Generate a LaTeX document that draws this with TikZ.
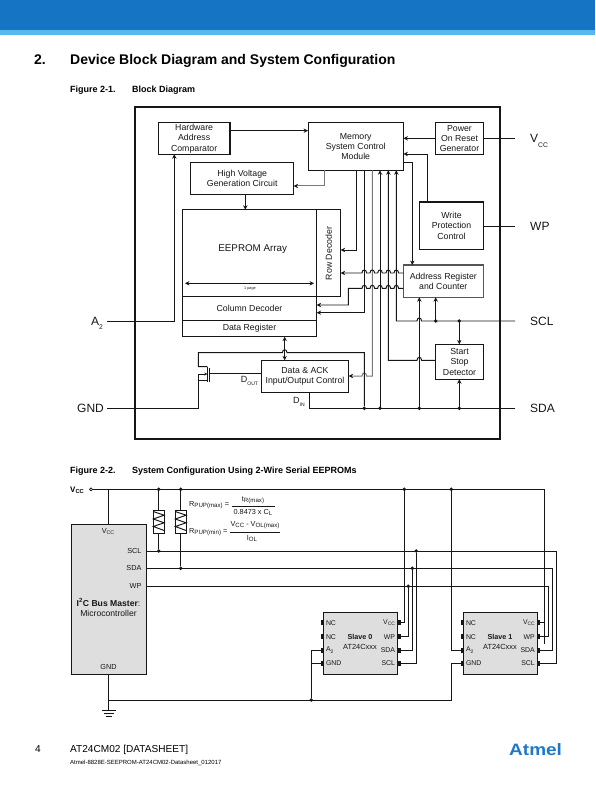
\documentclass[tikz,border=0pt]{standalone}
\usepackage{fontspec}
\usepackage{graphicx}
\setmainfont{Liberation Sans}
\usetikzlibrary{arrows.meta}
\definecolor{barblue}{HTML}{1574C4}
\definecolor{barlight}{HTML}{55B9EE}
\definecolor{logoblue}{HTML}{1E78C8}
\definecolor{chipgray}{HTML}{DEDEDE}
\definecolor{ink}{HTML}{161616}
\definecolor{softline}{HTML}{7A7A7A}
% subscripts: ordinary, small (large labels), wide (formulas)
\newcommand\lsub[1]{\raisebox{-0.22em}{\scalebox{0.72}{#1}}}
\newcommand\bsub[1]{\raisebox{-0.35em}{\scalebox{0.56}{#1}}}
\newcommand\fsub[1]{\raisebox{-0.18em}{\scalebox{0.84}{#1}}}
% wire jumps (left-going)
\newcommand\hjl[2]{-- ({#1+2.3},#2) .. controls ({#1+2.3},{#2-4}) and ({#1-2.3},{#2-4}) .. ({#1-2.3},#2)}
% box given by its corners
\newcommand\bx[7][]{\node[blockbox,#1,minimum width={(#5-#3)*1pt},minimum height={(#6-#4)*1pt}] (#2) at ({(#3+#5)/2},{(#4+#6)/2}) {#7};}
\tikzset{
  wire/.style={draw=ink,line width=0.95pt},
  softwire/.style={draw=softline,line width=1pt},
  arr/.style={wire,-{Stealth[length=4.4pt,width=4.4pt]}},
  softarr/.style={softwire,-{Stealth[length=4.4pt,width=4.4pt,color=ink]}},
  darr/.style={wire,{Stealth[length=4.4pt,width=4.4pt]}-{Stealth[length=4.4pt,width=4.4pt]}},
  blockbox/.style={draw=ink,line width=1pt,inner sep=0pt,outer sep=0pt,align=center,text=ink,font=\fontsize{8.75}{10.4}\selectfont},
  biglabel/.style={anchor=base west,inner sep=0pt,text=ink,font=\fontsize{12}{14}\selectfont},
  jdot/.style={circle,fill=ink,inner sep=0pt,minimum size=3.8pt},
  chiplabel/.style={inner sep=0pt,text=ink,font=\fontsize{6.9}{8}\selectfont},
  mlabel/.style={inner sep=0pt,text=ink,font=\fontsize{7.3}{9}\selectfont},
  formula/.style={inner sep=0pt,text=ink,font=\fontsize{7.3}{8}\selectfont},
  chipbox/.style={blockbox,fill=chipgray},
  pinmark/.style={fill=ink,inner sep=0pt,minimum width=2.8pt,minimum height=5pt},
  fig/.style={anchor=base west,inner sep=0pt,text=black,font=\fontsize{9}{10}\selectfont\bfseries},
}
\begin{document}
\begin{tikzpicture}[x=1pt,y=-1pt]
\useasboundingbox (0,0) rectangle (595,791);
% page header
\fill[barblue] (0,0) rectangle (595,30);
\fill[barlight] (0,30) rectangle (595,35);
\node[anchor=base west,inner sep=0pt,font=\fontsize{14}{16}\selectfont\bfseries] (secnum) at (34,65) {2.};
\node[anchor=base west,inner sep=0pt,font=\fontsize{14}{16}\selectfont\bfseries] (title) at (70,65) {Device Block Diagram and System Configuration};
\node[fig] (fig1a) at (70,93) {Figure 2-1.};
\node[fig] (fig1b) at (132,93) {Block Diagram};
\node[fig] (fig2a) at (70,473) {Figure 2-2.};
\node[fig] (fig2b) at (132,473) {System Configuration Using 2-Wire Serial EEPROMs};

% ---------- Figure 2-1 ----------
\node[draw=ink,line width=2.2pt,inner sep=0pt,outer sep=0pt,minimum width=365pt,minimum height=332pt] (frame) at (317.5,273) {};
\bx[line width=1.3pt]{hac}{158.3}{122.7}{230}{154.3}{Hardware\\Address\\Comparator}
\bx{scm}{308}{122.7}{403.5}{170.3}{Memory\\System Control\\Module}
\bx{por}{435.3}{122.7}{483.7}{154.3}{Power\\On Reset\\Generator}
\bx[line width=1.3pt]{wpc}{419.3}{202}{483.7}{249.3}{Write\\Protection\\Control}
\bx{hv}{190.7}{162.3}{293.7}{194.3}{High Voltage\\Generation Circuit}
\bx[line width=1.3pt]{arr1}{182.3}{209.7}{316.7}{296.7}{}
\bx{rd}{316.7}{209.7}{340.7}{296.7}{}
\bx[line width=1.3pt]{cd}{182.3}{296.7}{316.7}{320.7}{Column Decoder}
\bx[line width=1.3pt]{dr}{182.3}{320.7}{316.7}{336.7}{Data Register}
\bx{dack}{261.3}{360.3}{348.7}{392.3}{Data \& ACK\\Input/Output Control}
\bx[line width=1.4pt,draw=softline!70!black]{ar}{403.3}{265}{483.3}{297.3}{Address Register\\and Counter}
\bx{ssd}{435.3}{344.3}{483.7}{379.3}{Start\\Stop\\Detector}
\node[inner sep=0pt,text=ink,font=\fontsize{9.8}{11}\selectfont] (arrtext) at (252.7,249.3) {EEPROM Array};
\node[inner sep=0pt,text=ink,rotate=90,font=\fontsize{8.75}{10}\selectfont] (rdtext) at (328.7,253.5) {Row Decoder};
\node[inner sep=0pt,text=ink,font=\fontsize{3.8}{4}\selectfont] (pagetext) at (250,288.6) {1 page};
\coordinate (pl) at (185,283.3);
\coordinate (pr) at (314,283.3);
\draw[darr] (pl) -- (pr);

% outer connections
\node[biglabel] (lvcc) at (530,143) {V\bsub{CC}};
\node[biglabel] (lwp) at (530,230.7) {WP};
\node[biglabel] (lscl) at (530,325.3) {SCL};
\node[biglabel] (lsda) at (530,412.4) {SDA};
\node[biglabel] (la2) at (91,325.3) {A\bsub{2}};
\node[biglabel] (lgnd) at (77,412.4) {GND};
\coordinate (evcc) at (515,138.3);
\coordinate (ewp) at (515,226.7);
\coordinate (escl) at (515,321);
\coordinate (esda) at (515,408.3);
\coordinate (ea2) at (107,321.3);
\coordinate (egnd) at (107,408.3);
\draw[wire] (por.east |- evcc) -- (evcc);
\draw[wire] (wpc.east |- ewp) -- (ewp);
\draw[arr] (ea2) -- (174.3,321.3) -- (174.3,0 |- hac.south);

% block links
\draw[arr] (hac.east |- 0,130.7) -- (scm.west |- 0,130.7);
\draw[arr] (por.west |- 0,138.3) -- (scm.east |- 0,138.3);
\draw[arr] (427.7,0 |- wpc.north) -- (427.7,154) -- (scm.east |- 0,154);
\draw[arr] (scm.east |- 0,162.3) -- (412.3,162.3) -- (412.3,0 |- ar.north);
\draw[softarr] (324.7,0 |- scm.south) -- (324.7,186) -- (hv.east |- 0,186);
\draw[arr] (245.3,0 |- hv.south) -- (245.3,0 |- arr1.north);
\draw[arr] (356.7,0 |- scm.south) -- (356.7,250) -- (rd.east |- 0,250);
\draw[arr] (364.3,0 |- scm.south) -- (364.3,312.7) -- (cd.east |- 0,312.7);
\draw[softarr] (372.3,0 |- scm.south) -- (372.3,376) \hjl{364.3}{376} -- (dack.east |- 0,376);
\draw[arr] (380,408.3) -- (380,0 |- scm.south);
\draw[arr] (ssd.west |- 0,360.3) \hjl{419.3}{360.3} -- (388.3,360.3) -- (388.3,0 |- scm.south);
\draw[arr] (escl) \hjl{419.3}{321} -- (396.3,321) -- (396.3,0 |- scm.south);
\draw[arr] (ar.west |- 0,273) \hjl{396.3}{273} \hjl{388.3}{273} \hjl{380}{273} \hjl{372.3}{273} \hjl{364.3}{273} -- (rd.east |- 0,273);
\draw[arr] (ar.west |- 0,288.3) \hjl{396.3}{288.3} \hjl{388.3}{288.3} \hjl{380}{288.3} \hjl{372.3}{288.3} \hjl{364.3}{288.3} -- (348.3,288.3) -- (348.3,305) -- (cd.east |- 0,305);
\draw[arr] (419.3,408.3) -- (419.3,0 |- ar.south);
\draw[arr] (435.7,321) -- (435.7,0 |- ar.south);
\draw[arr] (459.3,321) -- (459.3,0 |- ssd.north);
\draw[arr] (459.3,408.3) -- (459.3,0 |- ssd.south);
\draw[darr] (284.7,0 |- dr.south) -- (284.7,0 |- dack.north);
\draw[wire] (esda) -- (309.3,408.3) -- (309.3,0 |- dack.south);
\node[jdot] (j1) at (364.3,408.3) {};
\node[jdot] (j2) at (380,408.3) {};
\node[jdot] (j3) at (419.3,408.3) {};
\node[jdot] (j4) at (459.3,408.3) {};
\node[jdot] (j5) at (435.7,321) {};
\node[jdot] (j6) at (459.3,321) {};
% output transistor
\draw[wire] (j1) -- (364.3,352.7) \hjl{284.7}{352.7} -- (198.3,352.7) -- (198.3,366.7) -- (207.3,366.7);
\draw[wire,line width=1.2pt] (207.3,366.7) -- (207.3,381.7);
\draw[wire,line width=1.2pt] (209.5,367.5) -- (209.5,381.7);
\draw[wire] (dack.west |- 0,373.3) -- (209.5,373.3);
\draw[wire,{Stealth[length=3pt,width=3pt]}-] (207.3,374) -- (198.3,374) -- (198.3,380.7);
\draw[wire] (207.3,380.7) -- (198.3,380.7) -- (198.3,408.3) -- (egnd);
\node[inner sep=0pt,anchor=base,text=ink,font=\fontsize{9}{10}\selectfont] (ldout) at (249.5,382) {D\bsub{OUT}};
\node[inner sep=0pt,anchor=base,text=ink,font=\fontsize{9}{10}\selectfont] (ldin) at (299,403) {D\bsub{IN}};

% ---------- Figure 2-2 ----------
\node[anchor=base west,inner sep=0pt,text=black,font=\fontsize{8}{9}\selectfont\bfseries] (vcc2) at (70,492) {V\lsub{CC}};
\node[circle,draw=ink,line width=0.7pt,inner sep=0pt,minimum size=3pt] (vo) at (91,489.3) {};
\node[chipbox,minimum width=75pt,minimum height=150pt] (mast) at (109.2,599.3) {};
\node[mlabel] (mv) at (108,531.7) {V\lsub{CC}};
\node[mlabel,anchor=east] (ms1) at (141.7,550.5) {SCL};
\node[mlabel,anchor=east] (ms2) at (141.7,568) {SDA};
\node[mlabel,anchor=east] (ms3) at (141.7,585.5) {WP};
\node[inner sep=0pt,text=ink,font=\fontsize{8.6}{10}\selectfont] (mt1) at (108.5,602.7) {\textbf{I\textsuperscript{2}C Bus Master}:};
\node[inner sep=0pt,text=ink,font=\fontsize{8.6}{10}\selectfont] (mt2) at (108.5,613.7) {Microcontroller};
\node[mlabel] (mg) at (108.5,667) {GND};

\bx[chipbox]{s0}{323.3}{612.7}{397.7}{674.3}{}
\bx[chipbox]{s1}{463.3}{612.7}{537.3}{674.3}{}
% resistors
\bx{r1}{153.3}{510}{164.1}{533.3}{}
\bx{r2}{175.3}{510}{186.1}{533.3}{}
\newcommand\zig[1]{\draw[wire] (#1-5.4,511.5) -- (#1+5.4,515.2) -- (#1-5.4,519) -- (#1+5.4,522.8) -- (#1-5.4,526.5) -- (#1+5.4,530.5);}
\zig{158.7}
\zig{180.7}

% rails
\coordinate (vend) at (544.3,489.3);
\draw[wire] (vo) -- (vend) -- (544.3,0 |- s1.east);
\node[jdot] (v1) at (158.7,489.3) {};
\node[jdot] (v2) at (180.7,489.3) {};
\node[jdot] (v3) at (404.3,489.3) {};
\node[jdot] (v4) at (451.3,489.3) {};
\draw[wire] (108.3,489.3) -- (mast.north -| 108.3,0);
\draw[wire] (v1) -- (r1);
\draw[wire] (v2) -- (r2);
\node[jdot] (jscl) at (158.7,551) {};
\node[jdot] (jsda) at (180.7,568.3) {};
\draw[wire] (r1) -- (jscl);
\draw[wire] (r2) -- (jsda);
\draw[wire] (mast.east |- 0,551) -- (556.3,551) -- (556.3,663.3) -- (s1.east |- 0,663.3);
\draw[wire] (mast.east |- 0,568.3) -- (552.3,568.3) -- (552.3,650) -- (s1.east |- 0,650);
\draw[wire] (mast.east |- 0,586.3) -- (548.7,586.3) -- (548.7,636.7) -- (s1.east |- 0,636.7);
\draw[wire] (544.3,489.3) -- (544.3,622.7) -- (s1.east |- 0,622.7);
\node[jdot] (b1) at (416.3,551) {};
\node[jdot] (b2) at (412.3,568.3) {};
\node[jdot] (b3) at (408.3,586.3) {};
\draw[wire] (v3) -- (404.3,622.7) -- (s0.east |- 0,622.7);
\draw[wire] (b3) -- (408.3,636.7) -- (s0.east |- 0,636.7);
\draw[wire] (b2) -- (412.3,650) -- (s0.east |- 0,650);
\draw[wire] (b1) -- (416.3,663.3) -- (s0.east |- 0,663.3);
% A2 / GND
\draw[wire] (v4) -- (451.3,650) -- (s1.west |- 0,650);
\draw[wire] (s1.west |- 0,663.3) -- (451.3,663.3) -- (451.3,700) -- (108.5,700);
\node[jdot] (g0) at (311.3,700) {};
\draw[wire] (s0.west |- 0,650) -- (311.3,650) -- (g0);
\draw[wire] (s0.west |- 0,663.3) -- (311.3,663.3);
\coordinate (gtop) at (108.5,710);
\draw[wire] (mast.south -| 108.5,0) -- (gtop);
\draw[wire] (102,710) -- (115.5,710);
\draw[wire] (104,713) -- (113.5,713);
\draw[wire] (106,716) -- (111.5,716);
% pins
\foreach \n/\y in {a/622.7,b/636.7,c/650,d/663.3}{
  \node[pinmark] (l0\n) at (321.9,\y) {};
  \node[pinmark] (r0\n) at (399.1,\y) {};
  \node[pinmark] (l1\n) at (461.9,\y) {};
  \node[pinmark] (r1\n) at (538.7,\y) {};
}
% chip labels
\foreach \k/\xl/\xr/\xc/\nm in {a/325.8/395.2/360/Slave 0,b/465.8/535/500/Slave 1}{
  \node[chiplabel,anchor=west] (nc1\k) at (\xl,622.7) {NC};
  \node[chiplabel,anchor=west] (nc2\k) at (\xl,636.7) {NC};
  \node[chiplabel,anchor=west] (aa\k) at (\xl,650) {A\lsub{2}};
  \node[chiplabel,anchor=west] (gg\k) at (\xl,663.3) {GND};
  \node[chiplabel,anchor=east] (vv\k) at (\xr,622.7) {V\lsub{CC}};
  \node[chiplabel,anchor=east] (ww\k) at (\xr,636.7) {WP};
  \node[chiplabel,anchor=east] (sa\k) at (\xr,650) {SDA};
  \node[chiplabel,anchor=east] (sc\k) at (\xr,663.3) {SCL};
  \node[inner sep=0pt,text=ink,font=\fontsize{7.2}{8}\selectfont\bfseries] (sl\k) at (\xc,637) {\nm};
  \node[inner sep=0pt,text=ink,font=\fontsize{7.4}{8}\selectfont] (at\k) at (\xc,647) {AT24Cxxx};
}
% formulas
\node[formula,anchor=base west] (f1) at (189,506.5) {R\fsub{PUP(max)} =};
\node[formula] (f1n) at (253,500) {t\fsub{R(max)}};
\node[formula] (f1d) at (253,512.3) {0.8473 x C\fsub{L}};
\coordinate (f1a) at (231.7,506.7);
\coordinate (f1b) at (275,506.7);
\draw[wire] (f1a) -- (f1b);
\node[formula,anchor=base west] (f2) at (189,533.5) {R\fsub{PUP(min)} =};
\node[formula] (f2n) at (255,525) {V\fsub{CC} - V\fsub{OL(max)}};
\node[formula] (f2d) at (252,538.3) {I\fsub{OL}};
\coordinate (f2a) at (230,532.3);
\coordinate (f2b) at (280,532.3);
\draw[wire] (f2a) -- (f2b);

% footer
\node[anchor=base west,inner sep=0pt,font=\fontsize{10.1}{11}\selectfont] (pg) at (35,752.5) {4};
\node[anchor=base west,inner sep=0pt,font=\fontsize{10.1}{11}\selectfont] (ft1) at (70,752.5) {AT24CM02 [DATASHEET]};
\node[anchor=base west,inner sep=0pt,font=\fontsize{6}{7}\selectfont] (ft2) at (70,764) {Atmel-8828E-SEEPROM-AT24CM02-Datasheet\_012017};
\node[anchor=base west,inner sep=0pt,text=logoblue,xscale=1.15,font=\fontsize{16.5}{18}\selectfont\bfseries] (logo) at (509,755.5) {Atmel};
\end{tikzpicture}
\end{document}
